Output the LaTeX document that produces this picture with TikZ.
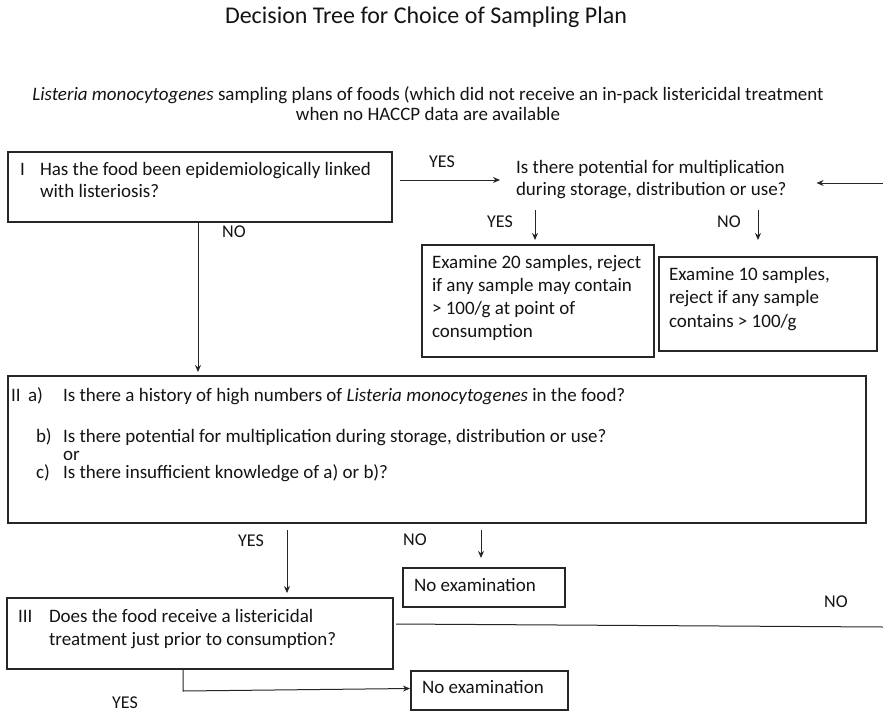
\documentclass[tikz,border=0pt]{standalone}
\usepackage{fontspec}
\setmainfont{Carlito}
\usetikzlibrary{arrows.meta,calc}
\newcommand\fsz[2]{\fontsize{#1}{#2}\selectfont}
\begin{document}
\begin{tikzpicture}[x=1pt,y=-1pt,
  box/.style={draw=black!85, line width=1.2pt, anchor=north west, inner sep=0pt, outer sep=0pt},
  txt/.style={anchor=north west, inner sep=0pt, outer sep=0pt, align=left, text=black!92, font=\fsz{19}{22}},
  one/.style={anchor=base west, inner sep=0pt, outer sep=0pt, text=black!92, font=\fsz{19}{22}},
  lab/.style={anchor=center, inner sep=0pt, outer sep=0pt, text=black!92, font=\fsz{18}{20}},
  arr/.style={draw=black!85, line width=1pt, -{Stealth[length=7pt,width=6pt]}},
  ln/.style={draw=black!85, line width=1pt}]
\fill[white] (0,0) rectangle (883,712);
\useasboundingbox (0,0) rectangle (883,712);

% heading
\node[anchor=base, inner sep=0pt, text=black!92, font=\fsz{24}{28}] (title) at (426,23.5)
  {Decision Tree for Choice of Sampling Plan};
\node[txt, align=center, anchor=north, font=\fsz{19}{20}] (sub) at (428,86)
  {\strut\textit{Listeria monocytogenes} sampling plans of foods (which did not receive an in-pack listericidal treatment\\
   when no HACCP data are available};

% question I
\node[box, minimum width=384pt, minimum height=70pt] (q1) at (8,152) {};
\node[one] (q1n) at (20,175) {I};
\node[txt] (q1t) at (40,159.6) {\strut Has the food been epidemiologically linked\\with listeriosis?};

% multiplication question
\node[txt] (q2) at (516,157.6) {\strut Is there potential for multiplication\\during storage, distribution or use?};
\coordinate (rin) at (883,183);

% sampling plans
\node[box, minimum width=232pt, minimum height=112pt] (pa) at (422,245) {};
\node[txt, font=\fsz{19}{23}] (pat) at (432,252) {\strut Examine 20 samples, reject\\if any sample may contain\\> 100/g at point of\\consumption};
\node[box, minimum width=218pt, minimum height=94pt] (pb) at (659,257) {};
\node[txt, font=\fsz{19}{23.5}] (pbt) at (669,263.6) {\strut Examine 10 samples,\\reject if any sample\\contains > 100/g};

% question II
\node[box, minimum width=858pt, minimum height=147pt] (q3) at (8,376) {};
\node[one] (q3n) at (11,401) {II};
\node[one] (q3a) at (28,401) {a)};
\node[one] (q3at) at (63,401) {Is there a history of high numbers of \textit{Listeria monocytogenes} in the food?};
\node[one] (q3b) at (36,442) {b)};
\node[one] (q3bt) at (63,442) {Is there potential for multiplication during storage, distribution or use?};
\node[one] (q3or) at (63,460) {or};
\node[one] (q3c) at (36,478) {c)};
\node[one] (q3ct) at (63,478) {Is there insufficient knowledge of a) or b)?};

% no examination (after II)
\node[box, minimum width=162pt, minimum height=39pt] (ne1) at (403,568) {};
\node[one] (ne1t) at (414,591) {No examination};

% question III
\node[box, minimum width=386pt, minimum height=71pt] (q4) at (7,598) {};
\node[one] (q4n) at (18,622) {III};
\node[txt, font=\fsz{19}{23}] (q4t) at (49,606.6) {\strut Does the food receive a listericidal\\treatment just prior to consumption?};
\coordinate (rout) at (883,627);

% no examination (after III)
\node[box, minimum width=157pt, minimum height=39pt] (ne2) at (411,671) {};
\node[one] (ne2t) at (422,693) {No examination};

% branch labels
\node[lab] (l1) at (442,162) {YES};
\node[lab] (l2) at (234,232) {NO};
\node[lab] (l3) at (500,222) {YES};
\node[lab] (l4) at (729,222) {NO};
\node[lab] (l5) at (251,541) {YES};
\node[lab] (l6) at (415,540) {NO};
\node[lab] (l7) at (836,602) {NO};
\node[lab] (l8) at (125,703) {YES};

% connectors
\draw[arr] ([shift={(8,-7)}]q1.east) -- ([xshift=-16pt]q2.west |- 0,180);
\draw[arr] (rin) -- ([xshift=30pt]q2.east |- rin);
\coordinate (ya) at ([shift={(-3,-35)}]pa.north);
\draw[arr] (ya) -- ([shift={(-3,-5)}]pa.north);
\coordinate (yb) at ([shift={(-10,-47)}]pb.north);
\draw[arr] (yb) -- ([shift={(-10,-17)}]pb.north);
\draw[arr] ([xshift=-2pt]q1.south) -- ($(q1.south |- q3.north)+(-2,-4)$);
\draw[arr] ([shift={(279,7)}]q3.south west) -- ([shift={(280,-5)}]q4.north west);
\draw[arr] ([shift={(473,7)}]q3.south west) -- ([shift={(-3,-10)}]ne1.north);
\draw[ln] ([shift={(3,-9.5)}]q4.east) -- (rout);
\draw[arr] ([xshift=-17pt]q4.south) -- ++(0,22) -- ([shift={(-1,-2)}]ne2.west);
\end{tikzpicture}
\end{document}
